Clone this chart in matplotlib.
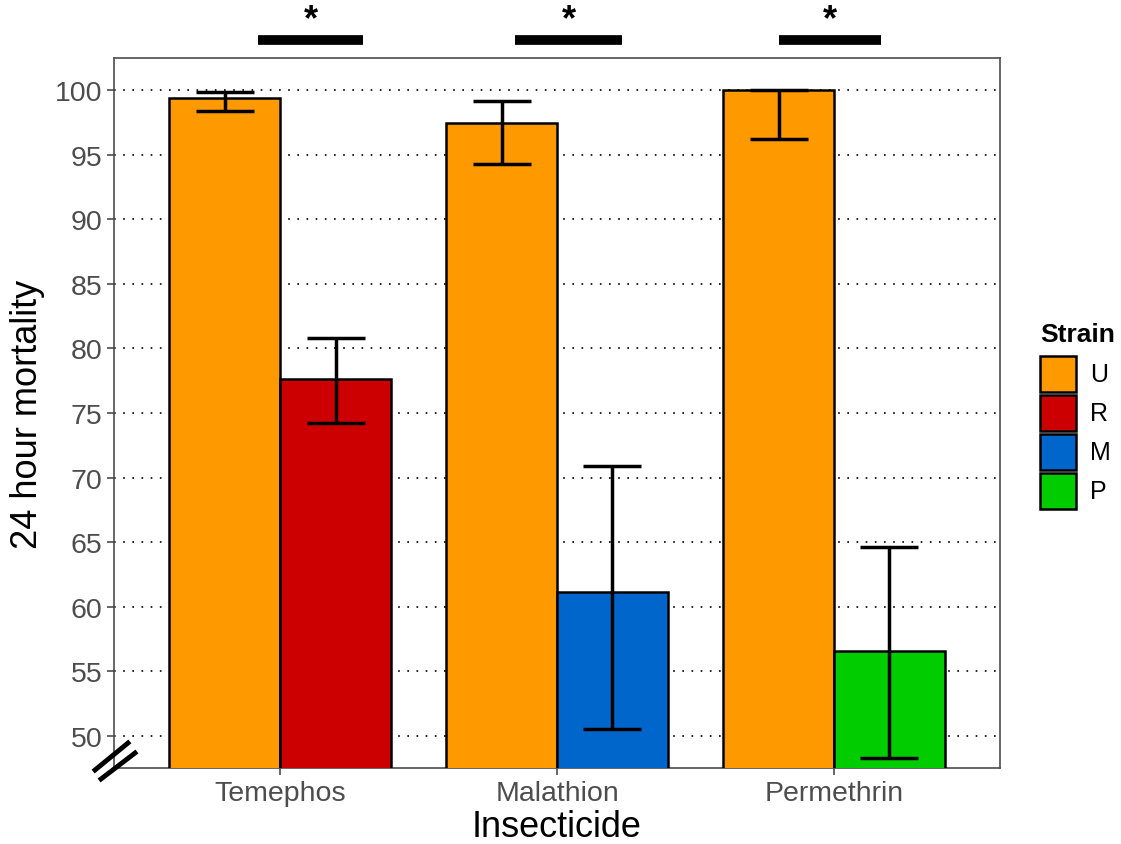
import matplotlib.pyplot as plt
import numpy as np
from matplotlib.lines import Line2D
from matplotlib.patches import Rectangle

plt.rcParams['font.family'] = ['Liberation Sans', 'DejaVu Sans']

insecticides = ["Temephos", "Malathion", "Permethrin"]
strains = ["U", "R", "M", "P"]
strain_colors = {"U": "#FF9900", "R": "#CC0000", "M": "#0066CC", "P": "#00CC00"}

# unselected strain vs. the strain selected with each insecticide
susceptible_mean = [99.4, 97.5, 100.0]
susceptible_lo = [98.4, 94.3, 96.2]
susceptible_hi = [99.9, 99.2, 100.0]

selected_strain = ["R", "M", "P"]
selected_mean = [77.6, 61.1, 56.6]
selected_lo = [74.2, 50.5, 48.3]
selected_hi = [80.8, 70.9, 64.6]

# significance bars (x from, x to) above each pair
sig_spans = [(0.92, 1.30), (1.85, 2.235), (2.80, 3.17)]

W, H = 1121, 845
fig = plt.figure(figsize=(W / 100, H / 100), dpi=100)
ax = fig.add_axes([114 / W, 1 - 769 / H, 886 / W, 710 / H])

x = np.arange(1, len(insecticides) + 1)
w = 0.4
ybase = 40

def draw_group(xpos, means, lo, hi, colors):
    ax.bar(xpos, np.array(means) - ybase, bottom=ybase, width=w, color=colors,
           edgecolor="black", linewidth=1.8, zorder=3)
    ax.errorbar(xpos, means,
                yerr=[np.array(means) - np.array(lo), np.array(hi) - np.array(means)],
                fmt="none", ecolor="black", elinewidth=2.5, capsize=21, capthick=2.5,
                zorder=4)

draw_group(x - w / 2, susceptible_mean, susceptible_lo, susceptible_hi,
           [strain_colors["U"]] * 3)
draw_group(x + w / 2, selected_mean, selected_lo, selected_hi,
           [strain_colors[s] for s in selected_strain])

ax.set_xlim(0.4, 3.6)
ax.set_ylim(47.5, 102.5)
ax.set_yticks(np.arange(50, 101, 5))
ax.set_xticks(x)
ax.set_xticklabels(insecticides)
ax.yaxis.grid(True, linestyle=(0, (1, 4.5)), color="black", linewidth=1.2, zorder=1)
ax.set_axisbelow(True)

ax.tick_params(axis="both", labelsize=20.5, colors="#4D4D4D", length=5, width=1.2)
for s in ax.spines.values():
    s.set_color("#4D4D4D")
    s.set_linewidth(1.2)

ax.set_xlabel("Insecticide", fontsize=26, labelpad=2)
ax.set_ylabel("24 hour mortality", fontsize=26, labelpad=7)

for x0, x1 in sig_spans:
    ax.plot([x0, x1], [103.9, 103.9], color="black", linewidth=7,
            solid_capstyle="butt", clip_on=False)
    ax.text((x0 + x1) / 2, 104.1, "*", ha="center", va="bottom",
            fontsize=26, fontweight="bold", clip_on=False)

# axis break marks at bottom of the y axis
for (x0, y0), (x1, y1) in [((95, 771), (128, 744)), ((101, 780), (135, 754))]:
    fig.add_artist(Line2D([x0 / W, x1 / W], [1 - y0 / H, 1 - y1 / H],
                          color="black", linewidth=3.5))

# legend: title plus one square key per strain
fig.text(1040 / W, 1 - 335 / H, "Strain", fontsize=19, fontweight="bold",
         ha="left", va="center")
key_top, key_size, key_step = 357, 36, 39
for i, s in enumerate(strains):
    top = key_top + i * key_step
    fig.add_artist(Rectangle((1040 / W, 1 - (top + key_size) / H),
                             key_size / W, key_size / H,
                             facecolor=strain_colors[s], edgecolor="black",
                             linewidth=1.8, transform=fig.transFigure))
    fig.text(1090 / W, 1 - (top + key_size / 2) / H, s, fontsize=18,
             ha="left", va="center")

fig.savefig("out.png", dpi=100)
